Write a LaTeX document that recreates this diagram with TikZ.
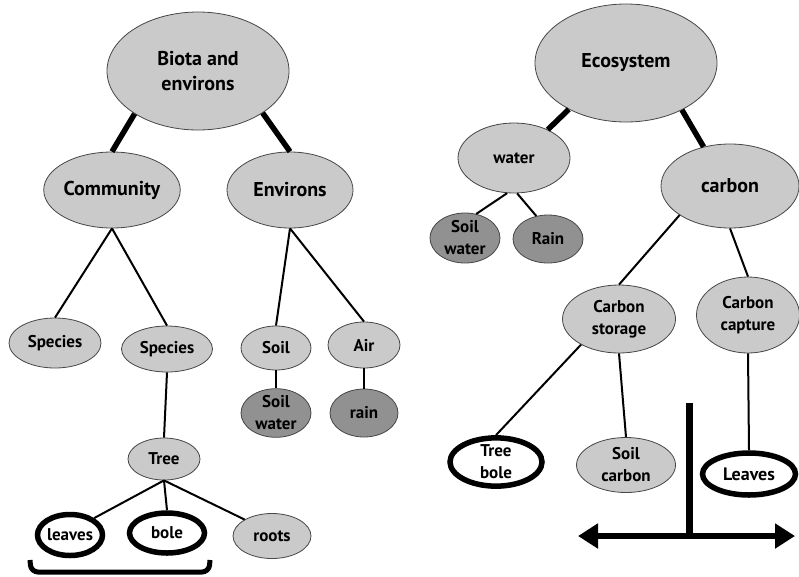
\documentclass[tikz,border=0pt]{standalone}
\usepackage{fontspec}
\setmainfont{PT Sans}
\usetikzlibrary{shapes.geometric,arrows.meta}
\definecolor{lightg}{RGB}{202,202,202}
\definecolor{darkg}{RGB}{145,145,145}
\definecolor{edgeg}{RGB}{70,70,70}
\tikzset{
  el/.style={ellipse, draw=edgeg, line width=0.8pt, fill=lightg, inner sep=0pt, align=center,
    font=\bfseries\fontsize{17}{22}\selectfont},
  big/.style={font=\bfseries\fontsize{20}{25}\selectfont},
  dk/.style={el, fill=darkg},
  wh/.style={el, draw=black, line width=5.5pt, fill=white},
  sz/.style 2 args={minimum width=#1pt, minimum height=#2pt},
  link/.style={line width=2pt, draw=black},
  blink/.style={line width=5.5pt, draw=black},
}
\begin{document}
\begin{tikzpicture}[x=1pt,y=-1pt]
\useasboundingbox (0,0) rectangle (799,576);
% ---- left tree ----
\node[el,big,sz={182}{118}] (biota) at (198,71) {Biota and\\environs};
\node[el,big,sz={133}{76}] (comm) at (112,190) {Community};
\node[el,big,sz={126}{76}] (env) at (290,190) {Environs};
\node[el,sz={92}{50}] (sp1) at (55,343) {Species};
\node[el,sz={91}{46}] (sp2) at (167,349) {Species};
\node[el,sz={70}{44}] (soil) at (276,348) {Soil};
\node[el,sz={72}{46}] (air) at (364,345) {Air};
\node[dk,sz={70}{48}] (sw1) at (276,413) {Soil\\water};
\node[dk,sz={68}{48}] (rain1) at (364,413) {rain};
\node[el,sz={72}{42}] (tree) at (164,459) {Tree};
\node[wh,sz={65}{41}] (leaves) at (70,535) {leaves};
\node[wh,sz={75}{40}] (bole) at (167,533) {bole};
\node[el,sz={78}{45}] (roots) at (272,536) {roots};
\draw[blink] (biota.214) -- (comm.north);
\draw[blink] (biota.327) -- (env.north);
\draw[link] (comm.south) -- (sp1.north);
\draw[link] (comm.south) -- (sp2.north);
\draw[link] (env.south) -- (soil.north);
\draw[link] (env.south) -- (air.north);
\draw[link] (soil.south) -- (sw1.north);
\draw[link] (air.south) -- (rain1.north);
\draw[link] (sp2.south) -- (tree.north);
\draw[link] (tree.south) -- (leaves.35);
\draw[link] (tree.south) -- (bole.north);
\draw[link] (tree.south) -- (roots.149);
\coordinate (brA) at (30,560);
\coordinate (brB) at (31,572);
\coordinate (brC) at (209,572);
\coordinate (brD) at (210,560);
\draw[line width=5pt, rounded corners=7pt] (brA) -- (brB) -- (brC) -- (brD);
% ---- right tree ----
\node[el,big,sz={182}{118}] (eco) at (626,63) {Ecosystem};
\node[el,sz={112}{70}] (water) at (514,158) {water};
\node[el,big,sz={138}{84}] (carbon) at (730,186) {carbon};
\node[dk,sz={70}{50}] (sw2) at (465,238) {Soil\\water};
\node[dk,sz={70}{48}] (rain2) at (548,239) {Rain};
\node[el,sz={113}{68}] (cstore) at (619,319) {Carbon\\storage};
\node[el,sz={103}{76}] (ccap) at (748,315) {Carbon\\capture};
\node[wh,sz={92}{46}] (tbole) at (496,462) {Tree\\bole};
\node[el,sz={99}{55}] (scarbon) at (626,465) {Soil\\carbon};
\node[wh,sz={93}{42},font=\bfseries\fontsize{18}{22}\selectfont] (leaves2) at (749,474) {Leaves};
\draw[blink] (eco.219) -- (water.40);
\draw[blink] (eco.320) -- (carbon.124);
\draw[link] (water.259) -- (sw2.65);
\draw[link] (water.275) -- (rain2.117);
\draw[link] (carbon.210) -- (cstore.north);
\draw[link] (carbon.south) -- (ccap.north);
\draw[link] (cstore.214) -- (tbole.north);
\draw[link] (cstore.south) -- (scarbon.north);
\draw[link] (ccap.south) -- (leaves2.north);
% ---- T arrow ----
\coordinate (ttop) at (689,403);
\coordinate (tmid) at (689,536);
\coordinate (aL) at (578,536);
\coordinate (aR) at (795,536);
\draw[line width=7pt] (ttop) -- (tmid);
\draw[line width=6pt, {Triangle[length=20pt,width=24pt]}-{Triangle[length=20pt,width=24pt]}] (aL) -- (aR);
\end{tikzpicture}
\end{document}
